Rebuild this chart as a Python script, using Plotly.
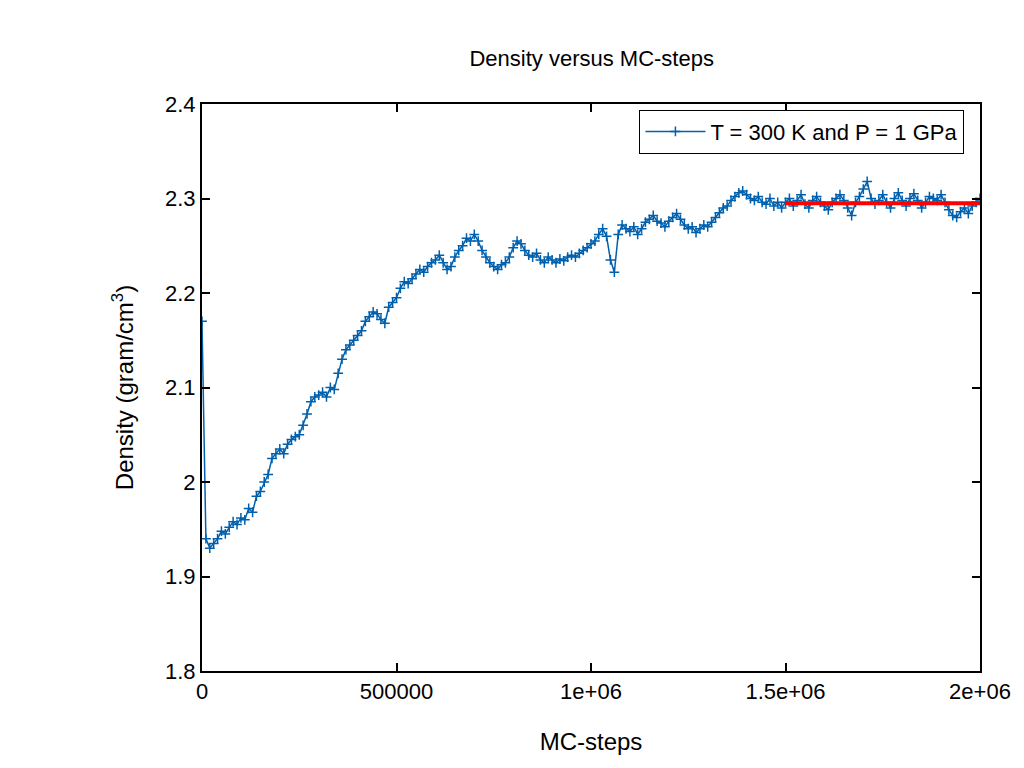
import plotly.graph_objects as go

density = [
    2.17, 1.94, 1.93, 1.935, 1.94, 1.948, 1.945, 1.952, 1.958, 1.955,
    1.962, 1.96, 1.972, 1.968, 1.985, 1.99, 2.0, 2.008, 2.025, 2.03,
    2.035, 2.03, 2.04, 2.045, 2.048, 2.05, 2.06, 2.072, 2.085, 2.09,
    2.092, 2.095, 2.09, 2.1, 2.098, 2.115, 2.13, 2.14, 2.145, 2.15,
    2.155, 2.16, 2.17, 2.175, 2.18, 2.178, 2.172, 2.168, 2.185, 2.19,
    2.195, 2.205, 2.212, 2.21, 2.215, 2.22, 2.225, 2.222, 2.228, 2.232,
    2.235, 2.24, 2.232, 2.225, 2.228, 2.238, 2.245, 2.25, 2.258, 2.255,
    2.262, 2.255, 2.245, 2.238, 2.232, 2.228, 2.225, 2.23, 2.232, 2.238,
    2.248, 2.255, 2.252, 2.245, 2.24, 2.238, 2.242, 2.235, 2.232, 2.238,
    2.235, 2.232, 2.236, 2.234, 2.238, 2.24, 2.238, 2.242, 2.245, 2.248,
    2.252, 2.255, 2.262, 2.268, 2.26, 2.235, 2.222, 2.262, 2.272, 2.268,
    2.265, 2.27, 2.262, 2.268, 2.275, 2.278, 2.282, 2.276, 2.274, 2.27,
    2.276, 2.28, 2.284, 2.278, 2.272, 2.268, 2.27, 2.264, 2.268, 2.272,
    2.27, 2.275, 2.28, 2.285, 2.29, 2.292, 2.298, 2.302, 2.306, 2.308,
    2.304, 2.3, 2.298, 2.302, 2.296, 2.294, 2.3, 2.292, 2.296, 2.29,
    2.296, 2.3, 2.292, 2.298, 2.304, 2.294, 2.29, 2.298, 2.302, 2.296,
    2.292, 2.288, 2.296, 2.3, 2.304, 2.298, 2.29, 2.282, 2.296, 2.302,
    2.31, 2.318, 2.3, 2.294, 2.298, 2.304, 2.296, 2.29, 2.3, 2.306,
    2.298, 2.292, 2.3, 2.305, 2.298, 2.29, 2.296, 2.302, 2.3, 2.298,
    2.304, 2.296, 2.288, 2.282, 2.28, 2.286, 2.29, 2.284, 2.292, 2.296,
    2.3,
]
steps = [i * 10000 for i in range(len(density))]

# average over the equilibrated part
avg_steps = [1500000, 2000000]
avg_density = [2.295, 2.295]

x_ticks = [0, 500000, 1000000, 1500000, 2000000]
x_labels = ["0", "500000", "1e+06", "1.5e+06", "2e+06"]
y_ticks = [1.8, 1.9, 2.0, 2.1, 2.2, 2.3, 2.4]
y_labels = ["1.8", "1.9", "2", "2.1", "2.2", "2.3", "2.4"]

fig = go.Figure()
fig.add_trace(go.Scatter(x=steps, y=density, mode="lines+markers",
                         name="T = 300 K and P = 1 GPa",
                         line=dict(color="#0060ad", width=1.5),
                         marker=dict(symbol="cross-thin", size=7,
                                     line=dict(color="#0060ad", width=1.5))))
fig.add_trace(go.Scatter(x=avg_steps, y=avg_density, mode="lines",
                         showlegend=False, line=dict(color="#ff0000", width=4)))

axis = dict(showline=True, linecolor="black", linewidth=2, mirror="ticks",
            ticks="inside", ticklen=8, tickwidth=1.5, tickcolor="black",
            showgrid=False, zeroline=False, automargin=False,
            tickfont=dict(size=22, color="black"))
fig.update_xaxes(range=[0, 2000000], tickvals=x_ticks, ticktext=x_labels,
                 title=dict(text="MC-steps", font=dict(size=24), standoff=30),
                 **axis)
fig.update_yaxes(range=[1.8, 2.4], tickvals=y_ticks, ticktext=y_labels,
                 title=dict(text="Density (gram/cm<sup>3</sup>)", font=dict(size=24),
                            standoff=25),
                 **axis)

fig.update_layout(
    width=1024, height=768,
    margin=dict(l=194, r=52, t=96, b=105),
    plot_bgcolor="white", paper_bgcolor="white",
    font=dict(family="Liberation Sans", color="black"),
    title=dict(text="Density versus MC-steps", x=0.57, xanchor="center",
               y=0.945, font=dict(size=22)),
    legend=dict(x=0.98, y=0.99, xanchor="right", yanchor="top",
                bordercolor="black", borderwidth=1, bgcolor="white",
                itemwidth=60, font=dict(size=22)),
)
fig.write_html("out.html")
